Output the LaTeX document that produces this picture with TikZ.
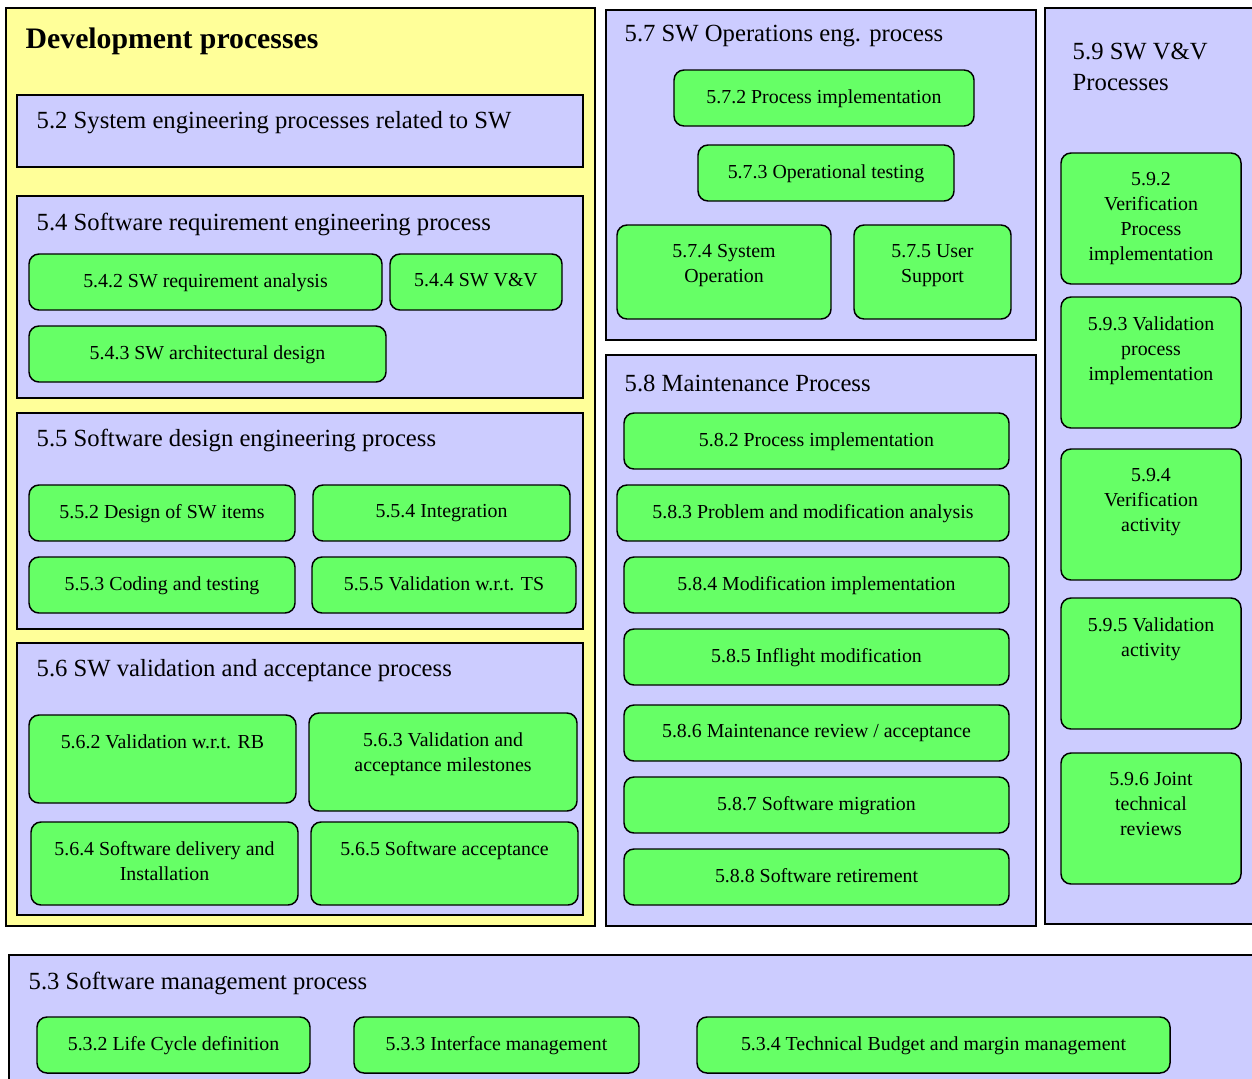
\documentclass[tikz,border=0pt]{standalone}
\usepackage{fontspec}
\setmainfont{Liberation Serif}
\usetikzlibrary{calc}
\definecolor{devyellow}{HTML}{FFFF99}
\definecolor{grouplilac}{HTML}{CCCCFF}
\definecolor{procgreen}{HTML}{66FF66}

% a plain box from its corners (x1,y1) to (x2,y2)
\newcommand\regionbox[6]{%
  \node[#1, minimum width={(#5-#3)*0.75pt}, minimum height={(#6-#4)*0.75pt}]
    (#2) at ({(#3+#5)/2},{(#4+#6)/2}) {};}
% a green process box with its text hung from the top
\newcommand\procbox[6]{%
  \regionbox{proc}{#1}{#2}{#3}{#4}{#5}
  \node[proc text] (#1-t) at ($(#1.north)+(0,19)$) {#6};}

\begin{document}
\begin{tikzpicture}[x=0.75pt, y=-0.75pt, line width=1.1pt]
    \tikzstyle{area}=[draw=black, rectangle, inner sep=0pt, outer sep=0pt]
    \tikzstyle{dev area}=[area, fill=devyellow]
    \tikzstyle{group area}=[area, fill=grouplilac]
    \tikzstyle{proc}=[area, fill=procgreen, rounded corners=7.5pt]
    \tikzstyle{group title}=[anchor=west, inner sep=0pt, font=\fontsize{18.5}{23.25}\selectfont]
    \tikzstyle{proc text}=[anchor=north, inner sep=0pt, align=center, font=\fontsize{14.9}{18.75}\selectfont]

    \path[use as bounding box, fill=white] (0,0) rectangle (1252,1078);

    % Development processes
    \regionbox{dev area}{dev}{6}{8}{595}{926}
    \node[group title, font=\fontsize{22.3}{25}\selectfont\bfseries] (dev-t) at (25,41) {Development processes};

    \regionbox{group area}{g52}{17}{95}{583}{167}
    \node[group title] (g52-t) at (36,123) {5.2 System engineering processes related to SW};

    \regionbox{group area}{g54}{17}{196}{583}{398}
    \node[group title] (g54-t) at (36,224) {5.4 Software requirement engineering process};
    \procbox{p542}{29}{254}{382}{310}{5.4.2 SW requirement analysis}
    \procbox{p544}{390}{254}{562}{310}{5.4.4 SW V\&V}
    \procbox{p543}{29}{326}{386}{382}{5.4.3 SW architectural design}

    \regionbox{group area}{g55}{17}{413}{583}{629}
    \node[group title] (g55-t) at (36,440) {5.5 Software design engineering process};
    \procbox{p552}{29}{485}{295}{541}{5.5.2 Design of SW items}
    \procbox{p554}{313}{485}{570}{541}{5.5.4 Integration}
    \procbox{p553}{29}{557}{295}{613}{5.5.3 Coding and testing}
    \procbox{p555}{312}{557}{576}{613}{5.5.5 Validation w.r.t. TS}

    \regionbox{group area}{g56}{17}{643}{583}{915}
    \node[group title] (g56-t) at (36,671) {5.6 SW validation and acceptance process};
    \procbox{p562}{29}{715}{296}{803}{5.6.2 Validation w.r.t. RB}
    \procbox{p563}{309}{713}{577}{811}{5.6.3 Validation and\\acceptance milestones}
    \procbox{p564}{31}{822}{298}{905}{5.6.4 Software delivery and\\Installation}
    \procbox{p565}{311}{822}{578}{905}{5.6.5 Software acceptance}

    % Operations
    \regionbox{group area}{g57}{606}{10}{1036}{340}
    \node[group title] (g57-t) at (624,36) {5.7 SW Operations eng. process};
    \procbox{p572}{674}{70}{974}{126}{5.7.2 Process implementation}
    \procbox{p573}{698}{145}{954}{201}{5.7.3 Operational testing}
    \procbox{p574}{617}{225}{831}{319}{5.7.4 System\\Operation}
    \procbox{p575}{854}{225}{1011}{319}{5.7.5 User\\Support}

    % Maintenance
    \regionbox{group area}{g58}{606}{355}{1036}{926}
    \node[group title] (g58-t) at (624,383) {5.8 Maintenance Process};
    \foreach \n/\x/\y/\txt in {2/624/413/{Process implementation},
                               3/617/485/{Problem and modification analysis},
                               4/624/557/{Modification implementation},
                               5/624/629/{Inflight modification},
                               6/624/705/{Maintenance review / acceptance},
                               7/624/777/{Software migration},
                               8/624/849/{Software retirement}}
        {\procbox{p58\n}{\x}{\y}{1009}{\y+56}{5.8.\n\ \txt}}

    % V&V
    \regionbox{group area}{g59}{1045}{8}{1262}{924}
    \node[group title, anchor=north west, align=left] (g59-t) at (1072,42) {5.9 SW V\&V\\Processes};
    \foreach \n/\y/\txt in {2/153/{5.9.2\\Verification\\Process\\implementation},
                            3/297/{5.9.3 Validation\\process\\implementation},
                            4/449/{5.9.4\\Verification\\activity},
                            5/598/{5.9.5 Validation\\activity},
                            6/753/{5.9.6 Joint\\technical\\reviews}}
        {\procbox{p59\n}{1061}{\y}{1241}{\y+131}{\txt}}

    % Management
    \regionbox{group area}{g53}{9}{955}{1262}{1088}
    \node[group title] (g53-t) at (28,983) {5.3 Software management process};
    \procbox{p532}{37}{1017}{310}{1073}{5.3.2 Life Cycle definition}
    \procbox{p533}{354}{1017}{639}{1073}{5.3.3 Interface management}
    \procbox{p534}{697}{1017}{1170}{1073}{5.3.4 Technical Budget and margin management}
\end{tikzpicture}
\end{document}
